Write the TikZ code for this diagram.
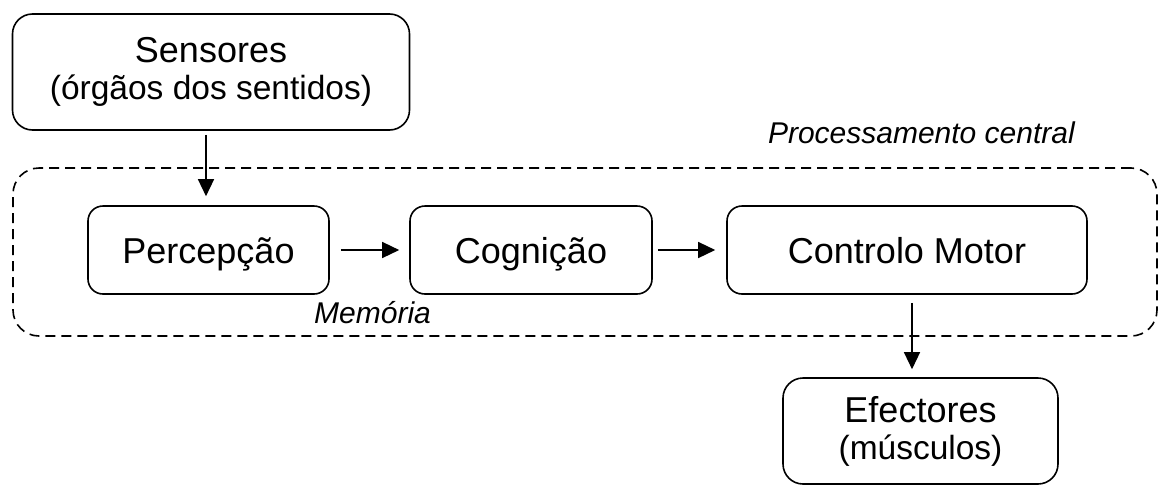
\documentclass[tikz,border=0pt]{standalone}
\usepackage{fontspec}
\setmainfont{Liberation Sans}
\usetikzlibrary{arrows.meta,positioning}

\tikzset{
  block/.style={draw, line width=1.6pt, rounded corners=15pt, align=center, inner sep=0pt,
    font=\fontsize{36}{37}\selectfont},
  oneline/.style={text height=26pt, text depth=0pt},
  procbox/.style={draw, line width=1.6pt, dash pattern=on 10pt off 6pt, rounded corners=26pt,
    inner sep=0pt},
  arr/.style={-{Triangle[length=17pt,width=16pt]}, line width=1.4pt},
  lbl/.style={font=\fontsize{30}{32}\selectfont\itshape, inner sep=0pt},
}

\begin{document}
\begin{tikzpicture}[x=1pt,y=-1pt]
    \useasboundingbox (0,0) rectangle (1166,485);

    % Central processing area
    \node[procbox, minimum width=1144pt, minimum height=168pt] (proc) at (585,252) {};
    \node[lbl, anchor=base east] (proclbl) at (1075,143) {Processamento central};
    \node[lbl, anchor=base west] (memlbl) at (314,323) {Memória};

    % Blocks
    \node[block, rounded corners=20pt, minimum width=397pt, minimum height=116pt] (sens) at (211,72)
        {Sensores\\{\fontsize{33.5}{37}\selectfont(órgãos dos sentidos)}};
    \node[block, oneline, minimum width=241pt, minimum height=88pt] (perc) at (208.5,250) {Percepção};
    \node[block, oneline, minimum width=242pt, minimum height=88pt] (cog) at (531,250) {Cognição};
    \node[block, oneline, minimum width=360pt, minimum height=88pt] (ctrl) at (907,250) {Controlo Motor};
    \node[block, rounded corners=20pt, minimum width=275pt, minimum height=106pt] (efec) at (920.5,431)
        {Efectores\\{\fontsize{33.5}{37}\selectfont(músculos)}};

    % Arrows
    \draw[arr, shorten <=4pt, shorten >=9pt] ([xshift=-5pt]sens.south) -- ([xshift=-5pt]sens.south |- perc.north);
    \draw[arr, shorten <=11pt, shorten >=10pt] (perc) -- (cog);
    \draw[arr, shorten <=5pt, shorten >=11pt] (cog) -- (ctrl);
    \draw[arr, shorten <=8pt, shorten >=8pt] ([xshift=5pt]ctrl.south) -- ([xshift=5pt]ctrl.south |- efec.north);
\end{tikzpicture}
\end{document}
